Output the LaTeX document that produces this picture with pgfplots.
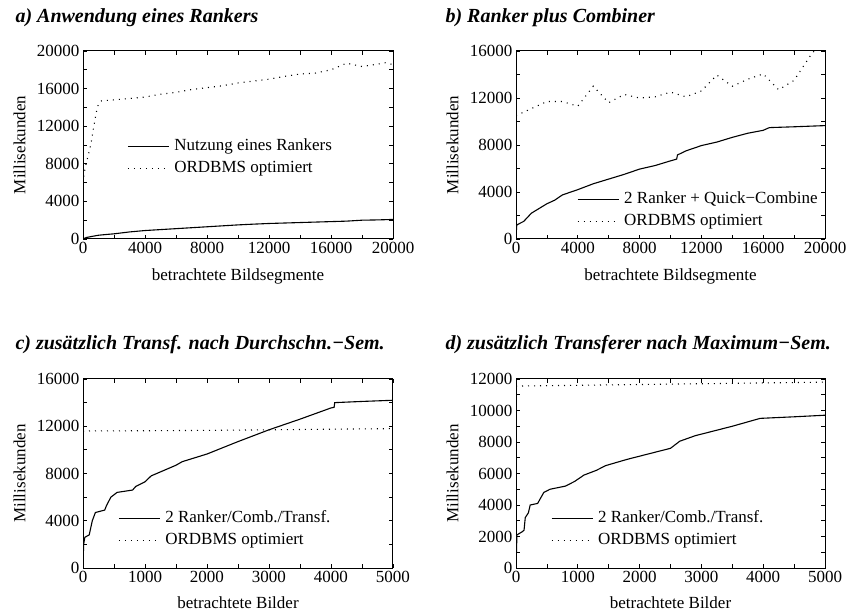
\documentclass[border=0pt]{standalone}
\usepackage{fontspec}
\setmainfont{Liberation Serif}
\usepackage{pgfplots}
\pgfplotsset{compat=1.18}
\newcommand\tf{\fontsize{17bp}{20bp}\selectfont}
\newcommand\ttl{\fontsize{20bp}{24bp}\selectfont\bfseries\itshape}
\pgfplotsset{
  legend image code/.code={\draw[#1] (0bp,0bp) -- (41bp,0bp);},
  myax/.style={
    scale only axis, width=310bp, height=188bp,
    axis line style={line width=1bp},
    tick align=inside, tick pos=both,
    major tick length=4bp, minor tick length=4bp,
    minor tick num=1,
    tick style={black, line width=0.8bp},
    every tick label/.append style={font=\tf},
    /pgf/number format/assume math mode=true,
    /pgf/number format/1000 sep={},
    scaled ticks=false,
    ylabel=Millisekunden,
    every axis y label/.style={at={(-0.205,0.5)}, rotate=90, anchor=center, font=\tf},
    every axis x label/.style={at={(0.5,-0.2)}, anchor=center, font=\tf},
    legend style={draw=none, fill=none, font=\tf, legend cell align=left,
      row sep=0bp, inner sep=0pt,
      nodes={inner ysep=3bp, inner xsep=5bp, text height=12bp, text depth=4bp}},
  },
  sl/.style={black, line width=1.1bp},
  dl/.style={black, line width=1.1bp, dash pattern=on 1bp off 5bp},
}
\begin{document}
\begin{tikzpicture}
\path[use as bounding box] (0,0) rectangle (848bp,613bp);
\node[anchor=base west, font=\ttl] at (12bp,590bp) {a) Anwendung eines Rankers};
\node[anchor=base west, font=\ttl] at (442bp,590bp) {b) Ranker plus Combiner};
\node[anchor=base west, font=\ttl] at (12bp,263bp) {c) zusätzlich Transf. nach Durchschn.−Sem.};
\node[anchor=base west, font=\ttl] at (442bp,263bp) {d) zusätzlich Transferer nach Maximum−Sem.};

% ---- a
\begin{axis}[myax, at={(83bp,374bp)}, anchor=south west,
  xmin=0, xmax=20000, ymin=0, ymax=20000,
  xtick={0,4000,...,20000}, ytick={0,4000,...,20000},
  xlabel={betrachtete Bildsegmente},
  legend style={at={(0.142,0.434)}, anchor=west}]
\addplot[sl] coordinates {(0,0) (200,150) (500,250) (1000,400) (1500,480) (2000,550) (3000,750) (4000,900) (5000,1000) (6000,1100) (7000,1200) (8000,1300) (9000,1400) (10000,1500) (11000,1580) (12000,1650) (13000,1700) (14000,1750) (15000,1800) (16000,1850) (17000,1900) (18000,2000) (19000,2030) (20000,2080)};
\addlegendentry{Nutzung eines Rankers}
\addplot[dl] coordinates {(0,6000) (100,7200) (200,8000) (350,9000) (500,10000) (600,11000) (700,12000) (850,13400) (1000,14400) (1200,14700) (2000,14800) (3000,14950) (4000,15100) (5000,15400) (6000,15600) (7000,15900) (8000,16100) (9000,16300) (10000,16600) (11000,16800) (12000,17000) (13000,17300) (14000,17550) (15000,17650) (16000,18000) (17000,18700) (18000,18350) (19000,18600) (19500,18750) (20000,18550)};
\addlegendentry{ORDBMS optimiert}
\end{axis}

% ---- b
\begin{axis}[myax, at={(516bp,374bp)}, anchor=south west, width=309bp,
  xmin=0, xmax=20000, ymin=0, ymax=16000,
  xtick={0,4000,...,20000}, ytick={0,4000,...,16000},
  xlabel={betrachtete Bildsegmente},
  legend style={at={(0.197,0.153)}, anchor=west}]
\addplot[sl] coordinates {(0,200) (50,1200) (500,1500) (1000,2200) (1500,2600) (2000,3000) (2500,3300) (3000,3750) (4000,4200) (5000,4700) (6000,5100) (7000,5500) (8000,5950) (9000,6250) (10000,6650) (10400,6800) (10450,7150) (11000,7500) (12000,7950) (13000,8250) (14000,8650) (15000,9000) (16000,9250) (16400,9480) (18000,9550) (20000,9650)};
\addlegendentry{2 Ranker + Quick−Combine}
\addplot[dl] coordinates {(0,10500) (1000,11100) (2000,11700) (3000,11700) (4000,11300) (5000,13000) (6000,11600) (7000,12300) (8000,12000) (9000,12100) (10000,12500) (11000,12100) (12000,12600) (13000,13950) (14000,13000) (15000,13600) (16000,14050) (17000,12700) (18000,13500) (19000,15500) (19600,16500)};
\addlegendentry{ORDBMS optimiert}
\end{axis}

% ---- c
\begin{axis}[myax, at={(83bp,45bp)}, anchor=south west, height=189bp,
  xmin=0, xmax=5000, ymin=0, ymax=16000,
  xtick={0,1000,...,5000}, ytick={0,4000,...,16000},
  xlabel={betrachtete Bilder},
  every axis x label/.style={at={(0.5,-0.183)}, anchor=center, font=\tf},
  legend style={at={(0.113,0.204)}, anchor=west}]
\addplot[sl] coordinates {(0,0) (10,2000) (30,2600) (100,2800) (150,4000) (200,4700) (350,4900) (380,5300) (450,6000) (550,6400) (800,6600) (850,6900) (1000,7300) (1100,7800) (1300,8250) (1500,8700) (1600,9000) (2000,9650) (2500,10700) (3000,11700) (3500,12600) (4000,13550) (4050,13600) (4060,14000) (4500,14100) (5000,14200)};
\addlegendentry{2 Ranker/Comb./Transf.}
\addplot[dl] coordinates {(0,11600) (1000,11620) (2000,11650) (3000,11700) (4000,11750) (5000,11800)};
\addlegendentry{ORDBMS optimiert}
\end{axis}

% ---- d
\begin{axis}[myax, at={(516bp,45bp)}, anchor=south west, width=309bp, height=189bp,
  xmin=0, xmax=5000, ymin=0, ymax=12000,
  xtick={0,1000,...,5000}, ytick={0,2000,...,12000},
  xlabel={betrachtete Bilder},
  every axis x label/.style={at={(0.5,-0.183)}, anchor=center, font=\tf},
  legend style={at={(0.113,0.204)}, anchor=west}]
\addplot[sl] coordinates {(0,0) (15,2100) (100,2300) (130,2400) (150,3200) (200,3500) (230,4000) (350,4100) (450,4800) (550,5000) (800,5200) (950,5500) (1100,5900) (1300,6200) (1450,6500) (1800,6900) (2000,7100) (2500,7600) (2650,8050) (2900,8400) (3200,8700) (3500,9000) (3950,9500) (4500,9600) (5000,9700)};
\addlegendentry{2 Ranker/Comb./Transf.}
\addplot[dl] coordinates {(0,11550) (1000,11600) (2000,11650) (3000,11700) (4000,11750) (5000,11800)};
\addlegendentry{ORDBMS optimiert}
\end{axis}
\end{tikzpicture}
\end{document}
